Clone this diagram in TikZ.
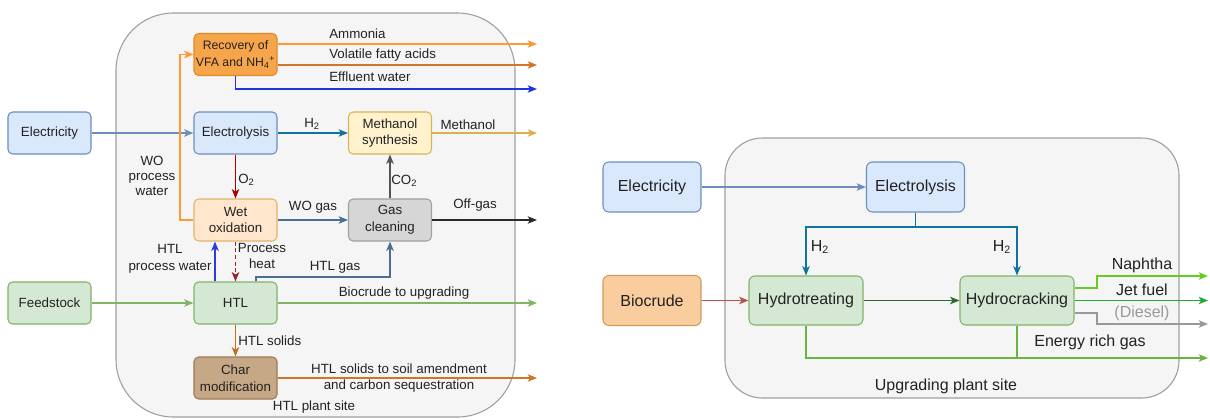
\documentclass[tikz,border=0pt]{standalone}
\usepackage{fontspec}
\setmainfont{Liberation Sans}
\usetikzlibrary{arrows.meta}
\definecolor{txt}{HTML}{222222}
\definecolor{sitefill}{HTML}{F5F5F5}
\definecolor{sitedraw}{HTML}{9E9E9E}
\definecolor{bfill}{HTML}{DAE8FC}
\definecolor{bdraw}{HTML}{6C8EBF}
\definecolor{gfill}{HTML}{D5E8D4}
\definecolor{gdraw}{HTML}{82B366}
\definecolor{yfill}{HTML}{FFF2CC}
\definecolor{ydraw}{HTML}{D6B656}
\definecolor{ofill}{HTML}{FFE6CC}
\definecolor{odraw}{HTML}{E3B46A}
\definecolor{rfill}{HTML}{F7A54A}
\definecolor{rdraw}{HTML}{E08A2A}
\definecolor{grfill}{HTML}{D6D6D6}
\definecolor{grdraw}{HTML}{A0A0A0}
\definecolor{chfill}{HTML}{C7A886}
\definecolor{chdraw}{HTML}{9C7A55}
\definecolor{biofill}{HTML}{F9CD9E}
\definecolor{biodraw}{HTML}{D29A5A}
\definecolor{cAmm}{HTML}{FF9933}
\definecolor{cVFA}{HTML}{D0752A}
\definecolor{cEff}{HTML}{1F35E0}
\definecolor{cEl}{HTML}{6C8EBF}
\definecolor{cH}{HTML}{10739E}
\definecolor{cMeth}{HTML}{DDB14A}
\definecolor{cO}{HTML}{B20000}
\definecolor{cSlate}{HTML}{4A6E94}
\definecolor{cCO}{HTML}{555555}
\definecolor{cOff}{HTML}{2A2A2A}
\definecolor{cPW}{HTML}{2A3FD9}
\definecolor{cHeat}{HTML}{A0202A}
\definecolor{cGreen}{HTML}{82B366}
\definecolor{cSol}{HTML}{C07020}
\definecolor{cBio}{HTML}{B85450}
\definecolor{cDG}{HTML}{2D6A2D}
\definecolor{cNap}{HTML}{66CC22}
\definecolor{cJet}{HTML}{22A832}
\definecolor{cDie}{HTML}{999999}
\definecolor{cGas}{HTML}{6DB33F}
\begin{document}
\begin{tikzpicture}[x=0.75pt,y=-0.75pt,
  box/.style={draw, rounded corners=3.5pt, line width=0.8pt, minimum width=62.25pt,
    minimum height=31.5pt, align=center, inner sep=1pt,
    font=\fontsize{10}{12.5}\selectfont, text=txt},
  rbox/.style={box, minimum width=73.5pt, minimum height=37.5pt,
    font=\fontsize{12}{14.5}\selectfont, rounded corners=4.5pt},
  hbox/.style={rbox, minimum width=85.5pt, minimum height=36.75pt},
  bluebox/.style={fill=bfill, draw=bdraw},
  greenbox/.style={fill=gfill, draw=gdraw},
  yellowbox/.style={fill=yfill, draw=ydraw},
  orangebox/.style={fill=ofill, draw=odraw},
  recbox/.style={fill=rfill, draw=rdraw},
  graybox/.style={fill=grfill, draw=grdraw},
  charbox/.style={fill=chfill, draw=chdraw},
  biobox/.style={fill=biofill, draw=biodraw},
  site/.style={fill=sitefill, draw=sitedraw, line width=0.8pt},
  flow/.style={line width=1pt, -{Stealth[length=7pt,width=5.6pt,inset=1.8pt]}},
  plain/.style={line width=1pt},
  lbl/.style={font=\fontsize{10}{12.5}\selectfont, text=txt, align=center, inner sep=0pt},
  rlbl/.style={lbl, font=\fontsize{12}{14.5}\selectfont}
]
\useasboundingbox (0,0) rectangle (1210,419);
\fill[white] (0,0) rectangle (1210,419);

% ---------- plant sites ----------
\draw[site, rounded corners=43pt] (116,13) rectangle (515,417);
\draw[site, rounded corners=28pt] (725,138) rectangle (1179,398);

% ---------- left nodes ----------
\node[box, bluebox] (elec1) at (49.5,133) {Electricity};
\node[box, recbox, font=\fontsize{9.2}{12.5}\selectfont] (recov) at (235.5,54.5) {Recovery of\\VFA and NH\textsubscript{4}\textsuperscript{+}};
\node[box, bluebox] (electro1) at (235.5,133) {Electrolysis};
\node[box, yellowbox] (meth) at (390,133) {Methanol\\synthesis};
\node[box, orangebox] (wetox) at (235.5,220) {Wet\\oxidation};
\node[box, graybox] (gasc) at (390,220) {Gas\\cleaning};
\node[box, greenbox] (feed) at (49.5,303) {Feedstock};
\node[box, greenbox] (htl) at (235.5,303) {HTL};
\node[box, charbox] (char) at (235.5,378) {Char\\modification};

% free ends (left)
\coordinate (eA) at (537,44);
\coordinate (eV) at (537,65);
\coordinate (eE) at (537,89);
\coordinate (eM) at (537,133);
\coordinate (eO) at (537,220);
\coordinate (eB) at (537,303);
\coordinate (eC) at (537,378);
\coordinate (cWO) at (180,220);
\coordinate (pw) at (215,262);
\coordinate (hg) at (256,277);

% ---------- left connectors ----------
\draw[flow, cAmm] (recov.east |- eA) -- (eA);
\draw[flow, cVFA] (recov.east |- eV) -- (eV);
\draw[flow, cEff] (recov.south) |- (eE);
\draw[flow, cEl] (elec1.east) -- (electro1.west);
\draw[flow, cH] (electro1.east) -- (meth.west);
\draw[flow, cMeth] (meth.east) -- (eM);
\draw[flow, cO] (electro1.south) -- (wetox.north);
\draw[flow, cAmm] (wetox.west) -- (cWO) |- (recov.west);
\draw[flow, cSlate] (wetox.east) -- (gasc.west);
\draw[flow, cCO] (gasc.north) -- (meth.south);
\draw[flow, cOff] (gasc.east) -- (eO);
\draw[flow, cPW] (pw |- htl.north) -- (pw |- wetox.south);
\draw[flow, cHeat, dash pattern=on 3pt off 2pt] (wetox.south) -- (htl.north);
\draw[flow, cSlate] (hg |- htl.north) -- (hg) -| (gasc.south);
\draw[flow, cGreen] (feed.east) -- (htl.west);
\draw[flow, cGreen] (htl.east) -- (eB);
\draw[flow, cSol] (htl.south) -- (char.north);
\draw[flow, cVFA] (char.east) -- (eC);

% ---------- left labels ----------
\node[lbl, anchor=west] (tA) at (329,34) {Ammonia};
\node[lbl, anchor=west] (tV) at (329,55) {Volatile fatty acids};
\node[lbl, anchor=west] (tE) at (329,77) {Effluent water};
\node[lbl] (tH) at (312,124) {H\textsubscript{2}};
\node[lbl] (tM) at (468,125) {Methanol};
\node[lbl, anchor=west] (tO) at (238,180) {O\textsubscript{2}};
\node[lbl, font=\fontsize{10}{11}\selectfont] (tWO) at (152,176) {WO\\process\\water};
\node[lbl] (tWG) at (313,207) {WO gas};
\node[lbl, anchor=west] (tCO) at (391,181) {CO\textsubscript{2}};
\node[lbl] (tOff) at (475,205) {Off-gas};
\node[lbl] (tPW) at (170,259) {HTL\\process water};
\node[lbl] (tPH) at (262,256) {Process\\heat};
\node[lbl] (tHG) at (335,267) {HTL gas};
\node[lbl] (tB) at (404,293) {Biocrude to upgrading};
\node[lbl, anchor=west] (tS) at (238,341) {HTL solids};
\node[lbl] (tC) at (399,378) {HTL solids to soil amendment\\and carbon sequestration};
\node[lbl] (tsite1) at (314,407) {HTL plant site};

% ---------- right nodes ----------
\node[rbox, bluebox] (elec2) at (652,187) {Electricity};
\node[rbox, biobox] (bio) at (652,300.5) {Biocrude};
\node[rbox, bluebox] (electro2) at (915.5,187) {Electrolysis};
\node[hbox, greenbox] (hydt) at (806,300.5) {Hydrotreating};
\node[hbox, greenbox] (hydc) at (1017,300.5) {Hydrocracking};

\coordinate (hb) at (915.5,227);
\coordinate (n1) at (1097,288);
\coordinate (d1) at (1097,313);
\coordinate (eN) at (1208,276);
\coordinate (eJ) at (1208,300.5);
\coordinate (eD) at (1208,324);
\coordinate (eG) at (1208,358);

% ---------- right connectors ----------
\draw[flow, cEl] (elec2.east) -- (electro2.west);
\draw[plain, cH] (electro2.south) -- (hb);
\draw[flow, cH] (hb) -| (hydt.north);
\draw[flow, cH] (hb) -| (hydc.north);
\draw[flow, cBio] (bio.east) -- (hydt.west);
\draw[flow, cDG] (hydt.east) -- (hydc.west);
\draw[flow, cNap] (n1 -| hydc.east) -- (n1) |- (eN);
\draw[flow, cJet] (hydc.east) -- (eJ);
\draw[flow, cDie] (d1 -| hydc.east) -- (d1) |- (eD);
\draw[flow, cGas] (hydt.south) |- (eG);
\draw[plain, cGas] (hydc.south) -- (hydc.south |- eG);

% ---------- right labels ----------
\node[rlbl] (tH2a) at (820,247) {H\textsubscript{2}};
\node[rlbl] (tH2b) at (1002,247) {H\textsubscript{2}};
\node[rlbl] (tN) at (1142,265) {Naphtha};
\node[rlbl] (tJ) at (1142,290) {Jet fuel};
\node[rlbl, text=cDie] (tD) at (1142,313) {(Diesel)};
\node[rlbl] (tG) at (1090,342) {Energy rich gas};
\node[rlbl] (tsite2) at (946,386) {Upgrading plant site};
\end{tikzpicture}
\end{document}
